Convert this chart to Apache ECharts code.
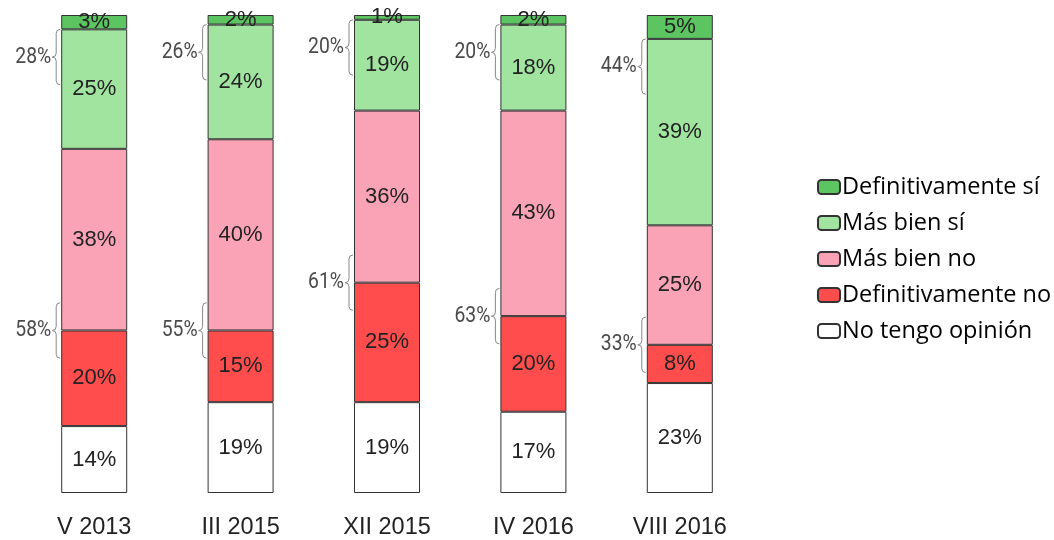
<!DOCTYPE html>
<html>
<head>
<meta charset="utf-8">
<script src="https://cdn.jsdelivr.net/npm/echarts@6/dist/echarts.min.js"></script>
<style>
  html, body { margin: 0; padding: 0; background: #fff; }
  #chart { width: 1054px; height: 540px; }
</style>
</head>
<body>
<div id="chart"></div>
<script>
const categories = ['V 2013', 'III 2015', 'XII 2015', 'IV 2016', 'VIII 2016'];

// stacked bottom -> top
const noOpinion = [14, 19, 19, 17, 23];
const defNo = [20, 15, 25, 20, 8];
const ratherNo = [38, 40, 36, 43, 25];
const ratherYes = [25, 24, 19, 18, 39];
const defYes = [3, 2, 1, 2, 5];

// totals shown next to the braces
const yesTotals = [28, 26, 20, 20, 44];
const noTotals = [58, 55, 61, 63, 33];

const names = ['No tengo opinión', 'Definitivamente no', 'Más bien no', 'Más bien sí', 'Definitivamente sí'];
const colors = ['#ffffff', '#ff4d4d', '#faa3b6', '#a0e4a0', '#5cc460'];
const values = [noOpinion, defNo, ratherNo, ratherYes, defYes];

let chart = echarts.init(document.getElementById('chart'));

const barSeries = values.map((v, i) => ({
  name: names[i],
  type: 'bar',
  stack: 'all',
  barWidth: 66,
  data: v,
  itemStyle: {
    color: colors[i],
    borderColor: '#333',
    borderWidth: 1
  },
  label: {
    show: true,
    position: 'inside',
    formatter: '{c}%',
    color: '#222',
    fontSize: 22,
    fontFamily: 'Liberation Sans, Arial, sans-serif'
  },
  emphasis: { disabled: true }
}));

// brace data: [category index, center value, half height, text]
let braceData = [];
categories.forEach((c, i) => {
  let yesTop = 100 - defYes[i];
  braceData.push([i, yesTop - 5.8, 5.8, yesTotals[i] + '%']);
  braceData.push([i, noOpinion[i] + defNo[i], 5.8, noTotals[i] + '%']);
});

const braceSeries = {
  type: 'custom',
  data: braceData,
  silent: true,
  z: 5,
  renderItem: function (params, api) {
    let center = api.coord([api.value(0), api.value(1)]);
    let top = api.coord([api.value(0), api.value(1) + api.value(2)]);
    let bottom = api.coord([api.value(0), api.value(1) - api.value(2)]);
    let ex = center[0] - 34;
    let sx = ex - 4;
    let tx = ex - 8;
    let ty = center[1];
    let y0 = top[1];
    let y1 = bottom[1];
    let path = 'M' + ex + ',' + y0 +
      ' Q' + sx + ',' + y0 + ' ' + sx + ',' + (y0 + 4) +
      ' L' + sx + ',' + (ty - 4) +
      ' Q' + sx + ',' + ty + ' ' + tx + ',' + ty +
      ' Q' + sx + ',' + ty + ' ' + sx + ',' + (ty + 4) +
      ' L' + sx + ',' + (y1 - 4) +
      ' Q' + sx + ',' + y1 + ' ' + ex + ',' + y1;
    return {
      type: 'group',
      children: [
        {
          type: 'path',
          shape: { pathData: path },
          style: { fill: null, stroke: '#888', lineWidth: 1 }
        },
        {
          type: 'text',
          x: tx - 1,
          y: ty,
          scaleX: 0.88,
          style: {
            x: 0,
            y: 0,
            text: api.value(3),
            align: 'right',
            verticalAlign: 'middle',
            fill: '#4a4a4a',
            fontSize: 22,
            fontFamily: 'Liberation Sans Narrow, Roboto, sans-serif'
          }
        }
      ]
    };
  }
};

const option = {
  animation: false,
  backgroundColor: '#fff',
  grid: {
    left: 21,
    right: 301,
    top: 15,
    bottom: 46
  },
  legend: {
    orient: 'vertical',
    left: 812,
    top: 170,
    itemWidth: 22,
    itemHeight: 14,
    itemGap: 12,
    data: ['Definitivamente sí', 'Más bien sí', 'Más bien no', 'Definitivamente no', 'No tengo opinión'],
    textStyle: {
      color: '#000',
      fontSize: 23.5,
      fontFamily: 'Open Sans, Noto Sans, sans-serif',
      padding: [0, 0, 0, -3]
    }
  },
  xAxis: {
    type: 'category',
    data: categories,
    axisLine: { show: false },
    axisTick: { show: false },
    axisLabel: {
      margin: 23,
      color: '#222',
      fontSize: 23.5,
      fontFamily: 'Liberation Sans, Arial, sans-serif'
    }
  },
  yAxis: {
    type: 'value',
    min: 0,
    max: 100,
    show: false
  },
  series: [...barSeries, braceSeries]
};

chart.setOption(option);
</script>
</body>
</html>
